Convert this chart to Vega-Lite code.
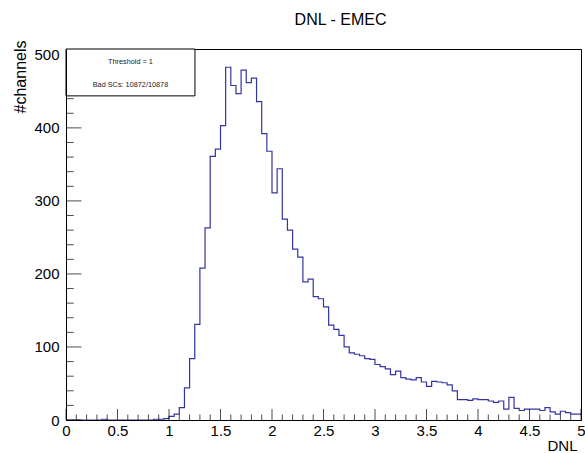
{
  "$schema": "https://vega.github.io/schema/vega-lite/v6.json",
  "width": 515,
  "height": 371,
  "autosize": {"type": "none"},
  "padding": {"left": 66, "top": 49, "right": 4, "bottom": 33},
  "background": "white",
  "title": {"text": "DNL - EMEC", "anchor": "middle", "dx": 17, "offset": 12, "fontSize": 16, "font": "Liberation Sans", "fontWeight": "normal", "color": "black"},
  "config": {
    "view": {"stroke": "black", "strokeWidth": 1},
    "font": "Liberation Sans"
  },
  "datasets": {
    "hist": [
      {"dnl": 0.00, "n": 0}, {"dnl": 0.05, "n": 0}, {"dnl": 0.10, "n": 0}, {"dnl": 0.15, "n": 0}, {"dnl": 0.20, "n": 0},
      {"dnl": 0.25, "n": 0}, {"dnl": 0.30, "n": 0}, {"dnl": 0.35, "n": 1}, {"dnl": 0.40, "n": 0}, {"dnl": 0.45, "n": 0},
      {"dnl": 0.50, "n": 0}, {"dnl": 0.55, "n": 0}, {"dnl": 0.60, "n": 0}, {"dnl": 0.65, "n": 0}, {"dnl": 0.70, "n": 0},
      {"dnl": 0.75, "n": 0}, {"dnl": 0.80, "n": 0}, {"dnl": 0.85, "n": 1}, {"dnl": 0.90, "n": 1}, {"dnl": 0.95, "n": 2},
      {"dnl": 1.00, "n": 5}, {"dnl": 1.05, "n": 8}, {"dnl": 1.10, "n": 17}, {"dnl": 1.15, "n": 44}, {"dnl": 1.20, "n": 84},
      {"dnl": 1.25, "n": 131}, {"dnl": 1.30, "n": 208}, {"dnl": 1.35, "n": 263}, {"dnl": 1.40, "n": 361}, {"dnl": 1.45, "n": 371},
      {"dnl": 1.50, "n": 403}, {"dnl": 1.55, "n": 483}, {"dnl": 1.60, "n": 458}, {"dnl": 1.65, "n": 447}, {"dnl": 1.70, "n": 479},
      {"dnl": 1.75, "n": 462}, {"dnl": 1.80, "n": 468}, {"dnl": 1.85, "n": 436}, {"dnl": 1.90, "n": 392}, {"dnl": 1.95, "n": 368},
      {"dnl": 2.00, "n": 311}, {"dnl": 2.05, "n": 344}, {"dnl": 2.10, "n": 275}, {"dnl": 2.15, "n": 260}, {"dnl": 2.20, "n": 234},
      {"dnl": 2.25, "n": 223}, {"dnl": 2.30, "n": 189}, {"dnl": 2.35, "n": 193}, {"dnl": 2.40, "n": 169}, {"dnl": 2.45, "n": 166},
      {"dnl": 2.50, "n": 155}, {"dnl": 2.55, "n": 130}, {"dnl": 2.60, "n": 124}, {"dnl": 2.65, "n": 116}, {"dnl": 2.70, "n": 100},
      {"dnl": 2.75, "n": 92}, {"dnl": 2.80, "n": 90}, {"dnl": 2.85, "n": 88}, {"dnl": 2.90, "n": 84}, {"dnl": 2.95, "n": 83},
      {"dnl": 3.00, "n": 76}, {"dnl": 3.05, "n": 73}, {"dnl": 3.10, "n": 70}, {"dnl": 3.15, "n": 62}, {"dnl": 3.20, "n": 67},
      {"dnl": 3.25, "n": 58}, {"dnl": 3.30, "n": 56}, {"dnl": 3.35, "n": 55}, {"dnl": 3.40, "n": 58}, {"dnl": 3.45, "n": 52},
      {"dnl": 3.50, "n": 46}, {"dnl": 3.55, "n": 53}, {"dnl": 3.60, "n": 52}, {"dnl": 3.65, "n": 51}, {"dnl": 3.70, "n": 48},
      {"dnl": 3.75, "n": 40}, {"dnl": 3.80, "n": 28}, {"dnl": 3.85, "n": 28}, {"dnl": 3.90, "n": 27}, {"dnl": 3.95, "n": 29},
      {"dnl": 4.00, "n": 28}, {"dnl": 4.05, "n": 28}, {"dnl": 4.10, "n": 26}, {"dnl": 4.15, "n": 24}, {"dnl": 4.20, "n": 26},
      {"dnl": 4.25, "n": 15}, {"dnl": 4.30, "n": 31}, {"dnl": 4.35, "n": 16}, {"dnl": 4.40, "n": 13}, {"dnl": 4.45, "n": 15},
      {"dnl": 4.50, "n": 15}, {"dnl": 4.55, "n": 15}, {"dnl": 4.60, "n": 13}, {"dnl": 4.65, "n": 17}, {"dnl": 4.70, "n": 11},
      {"dnl": 4.75, "n": 8}, {"dnl": 4.80, "n": 12}, {"dnl": 4.85, "n": 10}, {"dnl": 4.90, "n": 8}, {"dnl": 4.95, "n": 8},
      {"dnl": 5.00, "n": 8}
    ],
    "xmajor": [{"v": 0}, {"v": 0.5}, {"v": 1}, {"v": 1.5}, {"v": 2}, {"v": 2.5}, {"v": 3}, {"v": 3.5}, {"v": 4}, {"v": 4.5}, {"v": 5}],
    "xminor": [
      {"v": 0.1}, {"v": 0.2}, {"v": 0.3}, {"v": 0.4}, {"v": 0.6}, {"v": 0.7}, {"v": 0.8}, {"v": 0.9},
      {"v": 1.1}, {"v": 1.2}, {"v": 1.3}, {"v": 1.4}, {"v": 1.6}, {"v": 1.7}, {"v": 1.8}, {"v": 1.9},
      {"v": 2.1}, {"v": 2.2}, {"v": 2.3}, {"v": 2.4}, {"v": 2.6}, {"v": 2.7}, {"v": 2.8}, {"v": 2.9},
      {"v": 3.1}, {"v": 3.2}, {"v": 3.3}, {"v": 3.4}, {"v": 3.6}, {"v": 3.7}, {"v": 3.8}, {"v": 3.9},
      {"v": 4.1}, {"v": 4.2}, {"v": 4.3}, {"v": 4.4}, {"v": 4.6}, {"v": 4.7}, {"v": 4.8}, {"v": 4.9}
    ],
    "ymajor": [{"v": 0}, {"v": 100}, {"v": 200}, {"v": 300}, {"v": 400}, {"v": 500}],
    "yminor": [
      {"v": 20}, {"v": 40}, {"v": 60}, {"v": 80}, {"v": 120}, {"v": 140}, {"v": 160}, {"v": 180},
      {"v": 220}, {"v": 240}, {"v": 260}, {"v": 280}, {"v": 320}, {"v": 340}, {"v": 360}, {"v": 380},
      {"v": 420}, {"v": 440}, {"v": 460}, {"v": 480}
    ]
  },
  "layer": [
    {
      "data": {"name": "hist"},
      "mark": {"type": "line", "interpolate": "step-after", "color": "#3434a4", "strokeWidth": 1.2, "clip": true},
      "encoding": {
        "x": {
          "field": "dnl", "type": "quantitative",
          "scale": {"domain": [0, 5], "nice": false, "zero": false},
          "axis": {
            "values": [0, 0.5, 1, 1.5, 2, 2.5, 3, 3.5, 4, 4.5, 5],
            "format": "~g", "ticks": false, "grid": false,
            "domain": true, "domainColor": "black", "domainWidth": 1,
            "labelFlush": false, "labelOverlap": false, "labelBound": false,
            "labelFontSize": 15, "labelColor": "black", "labelFont": "Liberation Sans", "labelPadding": 3,
            "title": "DNL", "titleFontSize": 15, "titleFont": "Liberation Sans", "titleFontWeight": "normal", "titleColor": "black",
            "titleAnchor": "end", "titleAlign": "right", "titleBaseline": "alphabetic", "titleX": 511, "titleY": 30,
            "zindex": 1
          }
        },
        "y": {
          "field": "n", "type": "quantitative",
          "scale": {"domain": [0, 508], "nice": false},
          "axis": {
            "values": [0, 100, 200, 300, 400, 500],
            "format": "d", "ticks": false, "grid": false,
            "domain": true, "domainColor": "black", "domainWidth": 1,
            "labelFlush": false, "labelOverlap": false, "labelBound": false,
            "labelFontSize": 15, "labelColor": "black", "labelFont": "Liberation Sans", "labelPadding": 7,
            "title": "#channels", "titleFontSize": 16, "titleFont": "Liberation Sans", "titleFontWeight": "normal", "titleColor": "black",
            "titleAngle": -90, "titleAlign": "right", "titleBaseline": "middle", "titleX": -46, "titleY": -9,
            "zindex": 1
          }
        }
      }
    },
    {
      "data": {"name": "xmajor"},
      "mark": {"type": "tick", "orient": "vertical", "size": 11, "thickness": 1, "color": "black", "yOffset": -5.5},
      "encoding": {"x": {"field": "v", "type": "quantitative"}, "y": {"datum": 0}}
    },
    {
      "data": {"name": "xminor"},
      "mark": {"type": "tick", "orient": "vertical", "size": 5.5, "thickness": 1, "color": "black", "yOffset": -2.75},
      "encoding": {"x": {"field": "v", "type": "quantitative"}, "y": {"datum": 0}}
    },
    {
      "data": {"name": "ymajor"},
      "mark": {"type": "tick", "orient": "horizontal", "size": 15.5, "thickness": 1, "color": "black", "xOffset": 7.75},
      "encoding": {"y": {"field": "v", "type": "quantitative"}, "x": {"datum": 0}}
    },
    {
      "data": {"name": "yminor"},
      "mark": {"type": "tick", "orient": "horizontal", "size": 7.7, "thickness": 1, "color": "black", "xOffset": 3.85},
      "encoding": {"y": {"field": "v", "type": "quantitative"}, "x": {"datum": 0}}
    },
    {
      "data": {"values": [{"box": "stats"}]},
      "mark": {"type": "rect", "fill": "white", "stroke": "black", "strokeWidth": 1},
      "encoding": {
        "x": {"datum": 0}, "x2": {"datum": 1.252},
        "y": {"datum": 443.8}, "y2": {"datum": 508}
      }
    },
    {
      "data": {"values": [{"label": "Threshold = 1", "ly": 490}, {"label": "Bad SCs: 10872/10878", "ly": 459}]},
      "mark": {"type": "text", "font": "Liberation Sans", "fontSize": 7.3, "color": "#222222", "align": "center", "baseline": "middle"},
      "encoding": {
        "x": {"datum": 0.626},
        "y": {"field": "ly", "type": "quantitative"},
        "text": {"field": "label"}
      }
    }
  ]
}
